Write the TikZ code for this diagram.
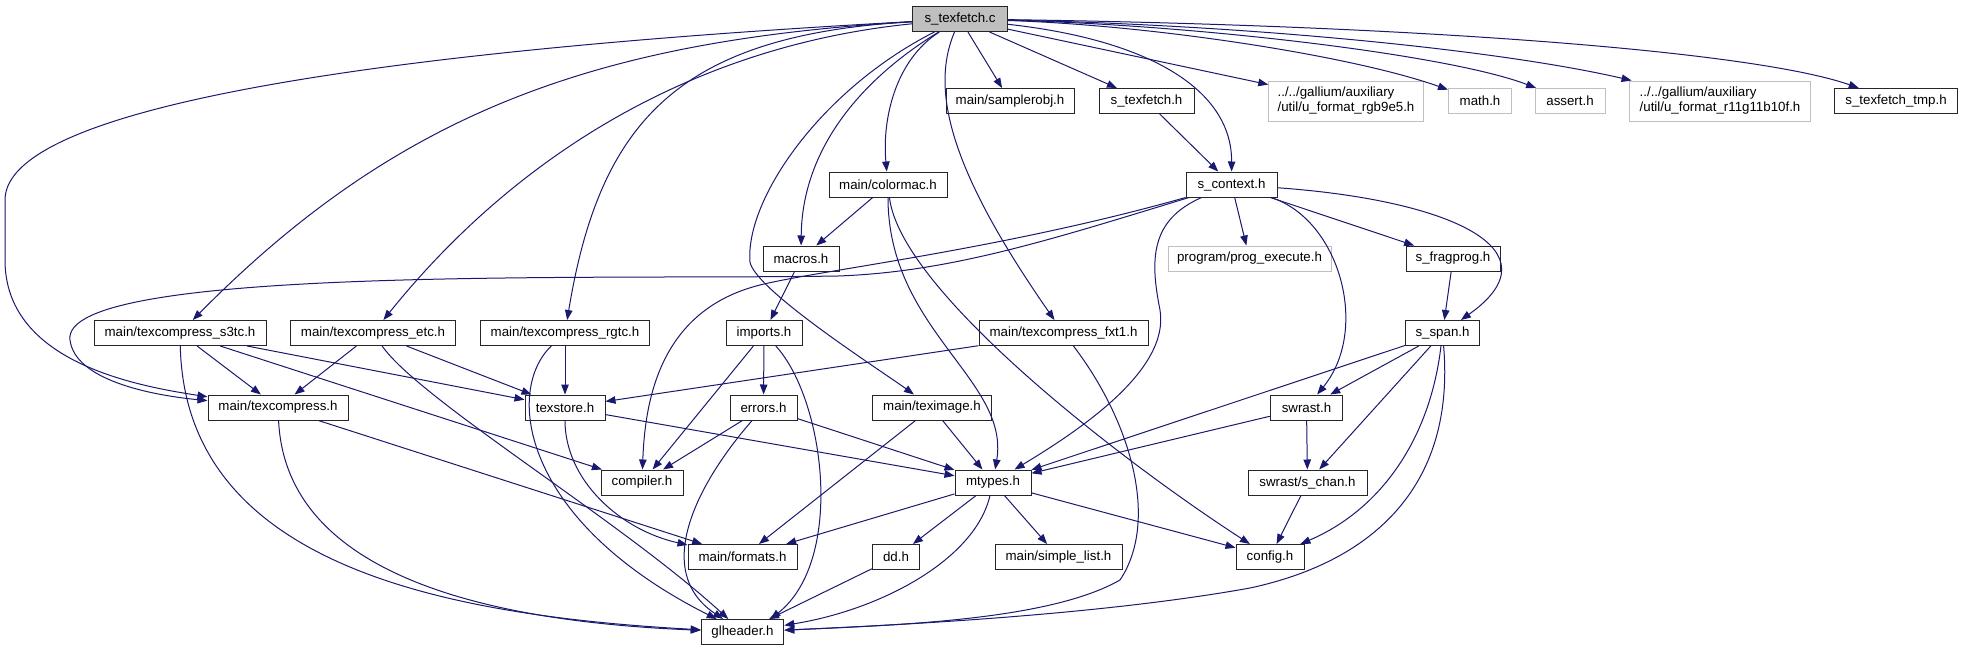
\documentclass[tikz,border=0pt]{standalone}
\usepackage{fontspec}
\setmainfont{Liberation Sans}
\usetikzlibrary{arrows.meta}
\definecolor{edgec}{HTML}{191970}
\definecolor{grayb}{HTML}{BFBFBF}
\begin{document}
\begin{tikzpicture}[x=1pt,y=-1pt]
\tikzset{
  nd/.style={draw=black!85, line width=1pt, fill=white, inner sep=0pt, minimum height=25pt, font=\fontsize{13.3}{15}\selectfont, text=black},
  ndg/.style={nd, draw=grayb},
  dep/.style={draw=edgec, line width=1pt, -{Triangle[length=10pt,width=7.5pt]}},
}
\fill[white] (0,0) rectangle (1963,651);
\useasboundingbox (0,0) rectangle (1963,651);
% rank 0
\node[nd, fill=grayb, minimum width=95pt] (tc) at (960,19) {s\_texfetch.c};
% rank 1
\node[nd, minimum width=128pt] (samp) at (1010,101) {main/samplerobj.h};
\node[nd, minimum width=95pt] (tfh) at (1146.5,101) {s\_texfetch.h};
\node[ndg, minimum width=154.5pt, minimum height=40pt, align=left] (rgb) at (1346,101) {../../gallium/auxiliary\\/util/u\_format\_rgb9e5.h};
\node[ndg, minimum width=63pt] (math) at (1480,101) {math.h};
\node[ndg, minimum width=70pt] (assert) at (1570,101) {assert.h};
\node[ndg, minimum width=181pt, minimum height=40pt, align=left] (r11) at (1720,101) {../../gallium/auxiliary\\/util/u\_format\_r11g11b10f.h};
\node[nd, minimum width=123pt] (tmp) at (1896,101) {s\_texfetch\_tmp.h};
% rank 2
\node[nd, minimum width=118pt] (colormac) at (888,184.5) {main/colormac.h};
\node[nd, minimum width=91pt] (ctx) at (1231.5,184.5) {s\_context.h};
% rank 3
\node[nd, minimum width=76pt] (macros) at (801,258.5) {macros.h};
\node[ndg, minimum width=163pt] (prog) at (1249.5,258.5) {program/prog\_execute.h};
\node[nd, minimum width=94pt] (frag) at (1453,258.5) {s\_fragprog.h};
% rank 4
\node[nd, minimum width=172pt] (s3tc) at (180,333) {main/texcompress\_s3tc.h};
\node[nd, minimum width=165pt] (etc) at (373,333) {main/texcompress\_etc.h};
\node[nd, minimum width=169pt] (rgtc) at (565,333) {main/texcompress\_rgtc.h};
\node[nd, minimum width=76pt] (imports) at (764,333) {imports.h};
\node[nd, minimum width=169pt] (fxt1) at (1063.5,333) {main/texcompress\_fxt1.h};
\node[nd, minimum width=74pt] (span) at (1442.5,333) {s\_span.h};
% rank 5
\node[nd, minimum width=140pt] (tch) at (278,407.5) {main/texcompress.h};
\node[nd, minimum width=80pt] (texstore) at (565,407.5) {texstore.h};
\node[nd, minimum width=67pt] (errors) at (763.5,407.5) {errors.h};
\node[nd, minimum width=119.5pt] (teximage) at (932,407.5) {main/teximage.h};
\node[nd, minimum width=72.5pt] (swrast) at (1306.5,407.5) {swrast.h};
% rank 6
\node[nd, minimum width=82pt] (compiler) at (642,482.5) {compiler.h};
\node[nd, minimum width=76pt] (mtypes) at (993,482.5) {mtypes.h};
\node[nd, minimum width=119pt] (chan) at (1307.5,482.5) {swrast/s\_chan.h};
% rank 7
\node[nd, minimum width=109pt] (formats) at (742.5,557) {main/formats.h};
\node[nd, minimum width=47pt] (dd) at (896,557) {dd.h};
\node[nd, minimum width=127pt] (slist) at (1058.5,557) {main/simple\_list.h};
\node[nd, minimum width=68pt] (config) at (1270,557) {config.h};
% rank 8
\node[nd, minimum width=82.6pt] (gl) at (742.5,632) {glheader.h};

% edges from s_texfetch.c
\draw[dep] (tc) .. controls (480,45) and (5,95) .. (5,200) -- (5,260) .. controls (5,360) and (130,385) .. (tch);
\draw[dep] (tc) .. controls (600,40) and (400,110) .. (s3tc);
\draw[dep] (tc) .. controls (700,45) and (520,150) .. (etc);
\draw[dep] (tc) .. controls (680,35) and (600,120) .. (rgtc);
\draw[dep] (tc) .. controls (820,90) and (745,200) .. (750,262) .. controls (755,290) and (880,370) .. (teximage);
\draw[dep] (tc) .. controls (860,80) and (802,150) .. (macros);
\draw[dep] (tc) .. controls (895,60) and (882,120) .. (colormac);
\draw[dep] (tc) .. controls (930,90) and (950,170) .. (fxt1);
\draw[dep] (tc) -- (samp);
\draw[dep] (tc) -- (tfh);
\draw[dep] (tc) .. controls (1150,40) and (1232,90) .. (ctx);
\draw[dep] (tc) -- (rgb);
\draw[dep] (tc) .. controls (1150,25) and (1350,55) .. (math);
\draw[dep] (tc) .. controls (1200,25) and (1450,55) .. (assert);
\draw[dep] (tc) .. controls (1250,25) and (1500,50) .. (r11);
\draw[dep] (tc) .. controls (1400,25) and (1750,50) .. (tmp);
% others
\draw[dep] (tfh) -- (ctx);
\draw[dep] (colormac) -- (macros);
\draw[dep] (colormac) .. controls (888,330) and (1010,380) .. (mtypes);
\draw[dep] (colormac) .. controls (900,290) and (1120,460) .. (config);
\draw[dep] (macros) -- (imports);
\draw[dep] (imports) -- (errors);
\draw[dep] (imports) -- (compiler);
\draw[dep] (imports) .. controls (825,400) and (845,560) .. ([xshift=28pt]gl.north);
\draw[dep] (errors) -- (compiler);
\draw[dep] (errors) -- (mtypes);
\draw[dep] (errors) .. controls (700,480) and (650,570) .. (gl);
\draw[dep] (teximage) -- (formats);
\draw[dep] (teximage) -- (mtypes);
\draw[dep] (texstore) -- (mtypes);
\draw[dep] (texstore) .. controls (565,480) and (620,530) .. (formats);
\draw[dep] (tch) -- (formats);
\draw[dep] (tch) .. controls (285,560) and (450,620) .. (gl);
\draw[dep] (s3tc) .. controls (185,560) and (430,615) .. (gl);
\draw[dep] (s3tc) -- (tch);
\draw[dep] (s3tc) -- (compiler);
\draw[dep] (s3tc) -- (texstore);
\draw[dep] (etc) -- (tch);
\draw[dep] (etc) .. controls (420,400) and (620,520) .. (gl);
\draw[dep] (etc) -- (texstore);
\draw[dep] (rgtc) -- (texstore);
\draw[dep] (rgtc) .. controls (505,390) and (520,520) .. (gl);
\draw[dep] (fxt1) -- (texstore);
\draw[dep] (fxt1) .. controls (1130,420) and (1160,520) .. (1120,580) .. controls (1050,620) and (900,625) .. (gl);
\draw[dep] (ctx) .. controls (1050,240) and (950,272) .. (838,276) .. controls (600,280) and (60,265) .. (70,340) .. controls (75,380) and (150,395) .. (tch);
\draw[dep] (ctx) .. controls (1000,250) and (820,270) .. (760,285) .. controls (660,310) and (645,400) .. (compiler);
\draw[dep] (ctx) .. controls (1150,220) and (1150,260) .. (1160,310) .. controls (1170,370) and (1080,430) .. (mtypes);
\draw[dep] (ctx) -- (prog);
\draw[dep] (ctx) .. controls (1340,220) and (1370,330) .. (swrast);
\draw[dep] (ctx) -- (frag);
\draw[dep] (ctx) .. controls (1450,200) and (1560,250) .. (span);
\draw[dep] (frag) -- (span);
\draw[dep] (span) -- (swrast);
\draw[dep] (span) -- (mtypes);
\draw[dep] (span) -- (chan);
\draw[dep] (span) .. controls (1430,440) and (1380,510) .. (config);
\draw[dep] (span) .. controls (1455,480) and (1380,560) .. (1250,588) .. controls (1100,615) and (900,625) .. (gl);
\draw[dep] (swrast) -- (chan);
\draw[dep] (swrast) -- (mtypes);
\draw[dep] (chan) -- (config);
\draw[dep] (mtypes) -- (formats);
\draw[dep] (mtypes) -- (dd);
\draw[dep] (mtypes) -- (slist);
\draw[dep] (mtypes) -- (config);
\draw[dep] (mtypes) .. controls (975,560) and (880,610) .. (gl);
\draw[dep] (dd) -- (gl);
\end{tikzpicture}
\end{document}
